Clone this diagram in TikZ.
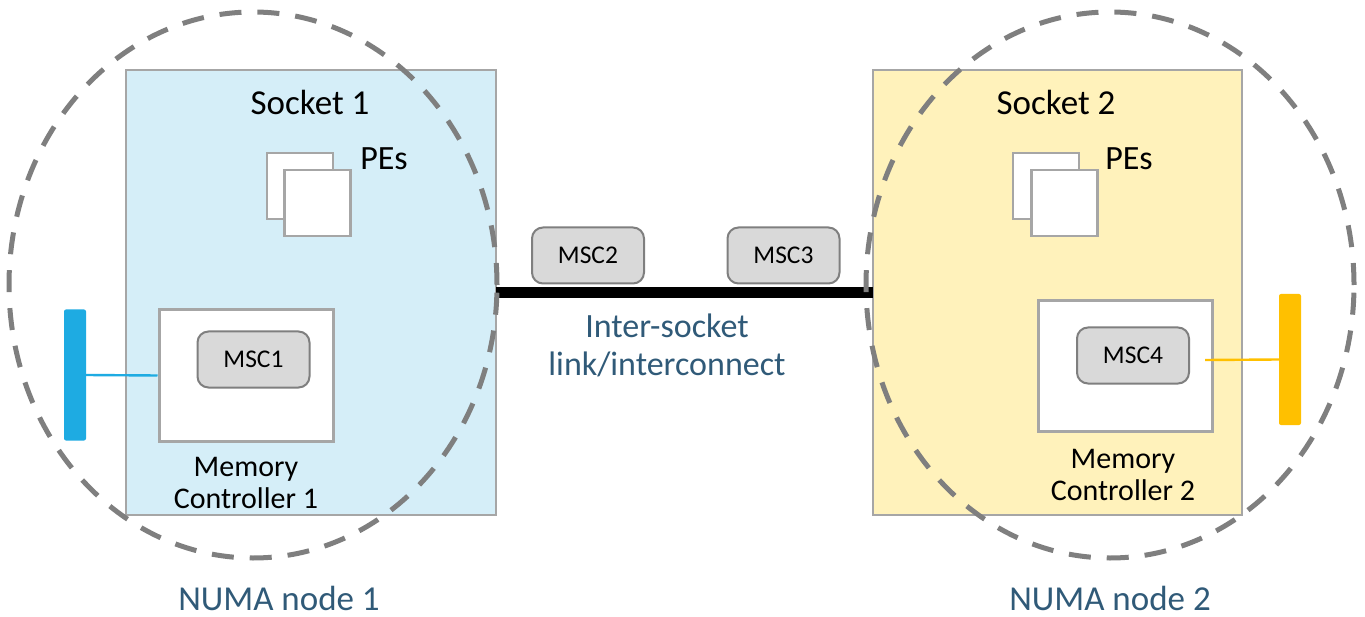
\documentclass[tikz,border=0pt]{standalone}
\usepackage{fontspec}
\setmainfont{Carlito}
\usetikzlibrary{shapes.geometric}

\definecolor{sockblue}{HTML}{D5EEF8}
\definecolor{sockyellow}{HTML}{FFF2BB}
\definecolor{boxgray}{HTML}{A6A6A6}
\definecolor{mscfill}{HTML}{D9D9D9}
\definecolor{mscline}{HTML}{7F7F7F}
\definecolor{numagray}{HTML}{7F7F7F}
\definecolor{slate}{HTML}{305A78}
\definecolor{membar}{HTML}{1EABE2}
\definecolor{memyellow}{HTML}{FFC000}

\tikzset{
  socketbox/.style={draw=boxgray, line width=1.2pt, inner sep=0pt, outer sep=0pt},
  pebox/.style={draw=boxgray, fill=white, line width=2.5pt, inner sep=0pt,
    minimum width=66pt, minimum height=66pt},
  mcbox/.style={draw=boxgray, fill=white, line width=3pt, inner sep=0pt,
    minimum width=174pt, minimum height=131pt},
  mscbox/.style={draw=mscline, fill=mscfill, line width=2pt, rounded corners=11pt,
    inner sep=0pt, minimum width=112pt, minimum height=56pt,
    font=\fontsize{25.5}{28}\selectfont},
  numaring/.style={ellipse, draw=numagray, line width=5pt, dash pattern=on 22pt off 16pt,
    inner sep=0pt, minimum width=488pt, minimum height=546pt},
  dimmbar/.style={rounded corners=2pt, inner sep=0pt, minimum width=22pt, minimum height=131pt},
  bigtext/.style={font=\fontsize{35}{39}\selectfont, anchor=base, inner sep=0pt},
  pelabel/.style={font=\fontsize{34}{38}\selectfont, anchor=base, inner sep=0pt},
  mclabel/.style={font=\fontsize{30}{32}\selectfont, align=center, anchor=base, inner sep=0pt},
  linklabel/.style={font=\fontsize{34}{39}\selectfont, align=center, anchor=base,
    inner sep=0pt, text=slate},
}

\begin{document}
\begin{tikzpicture}[x=1pt, y=-1pt]
  \useasboundingbox (0,0) rectangle (1365,617);

  % sockets
  \node[socketbox, fill=sockblue, minimum width=370pt, minimum height=445pt] (s1) at (311,292.5) {};
  \node[socketbox, fill=sockyellow, minimum width=369pt, minimum height=445pt] (s2) at (1057.5,292.5) {};
  \node[bigtext] (s1lbl) at (310,115) {Socket 1};
  \node[bigtext] (s2lbl) at (1056,115) {Socket 2};

  % processing elements
  \node[pebox] (pe1a) at (300,186) {};
  \node[pebox] (pe1b) at (317.5,203) {};
  \node[pelabel] (pe1lbl) at (384,170) {PEs};
  \node[pebox] (pe2a) at (1046,186) {};
  \node[pebox] (pe2b) at (1064.5,203) {};
  \node[pelabel] (pe2lbl) at (1129,170) {PEs};

  % memory controllers (label anchors sit on the last line's baseline)
  \node[mcbox] (mc1) at (246,375.5) {};
  \node[mscbox] (msc1) at (253.5,359.5) {MSC1};
  \node[mclabel] (mc1lbl) at (246,508) {Memory\\Controller 1};

  \node[mcbox] (mc2) at (1125,366) {};
  \node[mscbox] (msc4) at (1133,355.5) {MSC4};
  \node[mclabel] (mc2lbl) at (1123,500) {Memory\\Controller 2};

  % memory modules
  \node[dimmbar, fill=membar] (dimm1) at (75,375) {};
  \node[dimmbar, fill=memyellow] (dimm2) at (1290,359.5) {};
  \draw[membar, line width=2.4pt] (dimm1.east) -- (mc1.west);
  \coordinate (mc2tap) at (1205,360);
  \draw[memyellow, line width=2.4pt] (mc2tap) -- (dimm2.west);

  % inter-socket link
  \draw[black, line width=11pt] (s1.east) -- (s2.west);
  \node[mscbox] (msc2) at (588,255.5) {MSC2};
  \node[mscbox] (msc3) at (783.5,255.5) {MSC3};
  \node[linklabel] (linklbl) at (667,376) {Inter-socket\\link/interconnect};

  % NUMA domains
  \node[numaring] (numa1) at (253,285) {};
  \node[numaring] (numa2) at (1110,285) {};
  \node[bigtext, text=slate] (numa1lbl) at (279,610) {NUMA node 1};
  \node[bigtext, text=slate] (numa2lbl) at (1110,610) {NUMA node 2};
\end{tikzpicture}
\end{document}
